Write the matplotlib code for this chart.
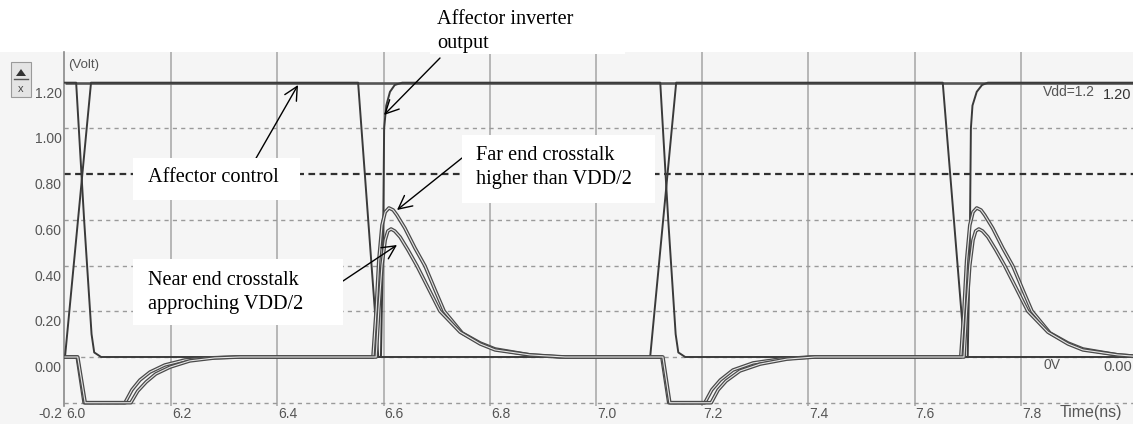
import matplotlib
matplotlib.use('Agg')
import matplotlib.pyplot as plt
import matplotlib.patheffects as pe
from matplotlib.patches import Rectangle, Polygon
from matplotlib.transforms import ScaledTranslation

W, H, DPI = 1133, 424, 100

# ---------------- data ----------------
x_ticks = [6.0, 6.2, 6.4, 6.6, 6.8, 7.0, 7.2, 7.4, 7.6, 7.8]
x_tick_labels = ['6.0', '6.2', '6.4', '6.6', '6.8', '7.0', '7.2', '7.4', '7.6', '7.8']
y_ticks = [1.2, 1.0, 0.8, 0.6, 0.4, 0.2, 0.0, -0.2]
y_tick_labels = ['1.20', '1.00', '0.80', '0.60', '0.40', '0.20', '0.00', '-0.2']

vdd_t = [6.0, 8.011]
vdd_v = [1.2, 1.2]

ctrl_t = [6.000, 6.049, 6.552, 6.590, 7.102, 7.151, 7.653, 7.695, 8.011]
ctrl_v = [0.0, 1.2, 1.2, 0.0, 0.0, 1.2, 1.2, 0.0, 0.0]

inv_t = [6.000, 6.021, 6.036, 6.050, 6.055, 6.068, 6.595, 6.599, 6.601, 6.605, 6.612, 6.621, 6.635,
         7.121, 7.136, 7.150, 7.155, 7.168, 7.700, 7.704, 7.706, 7.709, 7.717, 7.727, 7.738, 8.011]
inv_v = [1.2, 1.2, 0.6, 0.1, 0.02, 0.0, 0.0, 0.5, 1.0, 1.1, 1.16, 1.19, 1.2,
         1.2, 0.6, 0.1, 0.02, 0.0, 0.0, 0.5, 1.0, 1.1, 1.16, 1.19, 1.2, 1.2]

far_t = [6.000, 6.023, 6.036, 6.113, 6.126, 6.141, 6.160, 6.188, 6.226, 6.273, 6.320,
         6.580, 6.586, 6.591, 6.597, 6.603, 6.610, 6.618, 6.625, 6.640, 6.659, 6.678, 6.697, 6.714,
         6.748, 6.782, 6.810, 6.876, 6.932,
         7.124, 7.137, 7.205, 7.218, 7.234, 7.258, 7.296, 7.347, 7.403,
         7.687, 7.693, 7.698, 7.704, 7.710, 7.717, 7.725, 7.732, 7.747, 7.766, 7.785, 7.804, 7.821,
         7.855, 7.889, 7.917, 7.983, 8.011]
far_v = [0, 0, -0.2, -0.2, -0.144, -0.101, -0.066, -0.035, -0.013, -0.004, 0,
         0, 0.206, 0.424, 0.577, 0.634, 0.652, 0.643, 0.621, 0.564, 0.477, 0.398, 0.293, 0.201,
         0.105, 0.061, 0.035, 0.009, 0,
         0, -0.2, -0.2, -0.144, -0.101, -0.057, -0.026, -0.009, 0,
         0, 0.206, 0.424, 0.577, 0.634, 0.652, 0.643, 0.621, 0.564, 0.477, 0.398, 0.293, 0.201,
         0.105, 0.061, 0.035, 0.009, 0.004]

near_t = [6.000, 6.024, 6.038, 6.124, 6.137, 6.153, 6.171, 6.198, 6.235, 6.282, 6.330,
          6.586, 6.591, 6.597, 6.603, 6.608, 6.614, 6.621, 6.631, 6.646, 6.663, 6.684, 6.706,
          6.744, 6.782, 6.810, 6.876, 6.942,
          7.126, 7.139, 7.217, 7.230, 7.245, 7.271, 7.309, 7.360, 7.412,
          7.693, 7.698, 7.704, 7.710, 7.715, 7.721, 7.728, 7.738, 7.753, 7.770, 7.791, 7.813,
          7.851, 7.889, 7.917, 7.983, 8.011]
near_v = [0, 0, -0.2, -0.2, -0.149, -0.109, -0.074, -0.044, -0.017, -0.004, 0,
          0, 0.206, 0.402, 0.512, 0.551, 0.560, 0.551, 0.525, 0.468, 0.398, 0.302, 0.201,
          0.109, 0.057, 0.031, 0.009, 0,
          0, -0.2, -0.2, -0.144, -0.105, -0.061, -0.031, -0.009, 0,
          0, 0.206, 0.402, 0.512, 0.551, 0.560, 0.551, 0.525, 0.468, 0.398, 0.302, 0.201,
          0.109, 0.057, 0.031, 0.009, 0.004]

# ---------------- figure ----------------
def fx(x):
    return x / W

def fy(y):
    return 1 - y / H

fig = plt.figure(figsize=(W / DPI, H / DPI), dpi=DPI)
fig.patch.set_facecolor('white')
fig.add_artist(Rectangle((0, 0), 1, fy(52), transform=fig.transFigure,
                         facecolor='#f5f5f5', edgecolor='none', zorder=-10))

ax = fig.add_axes([fx(64), fy(406), 1 - fx(64), fy(52) - fy(406)])
ax.set_facecolor('none')
ax.set_xlim(6.0 - 1 / 531, 6.0 + (W - 65) / 531)
ax.set_ylim(-(406 - 357) / 228.6, (357 - 52) / 228.6)
for s in ['top', 'right', 'bottom']:
    ax.spines[s].set_visible(False)
ax.spines['left'].set_color('#8a8a8a')
ax.spines['left'].set_linewidth(1.2)

ax.set_xticks(x_ticks, x_tick_labels)
ax.set_yticks(y_ticks, y_tick_labels)
ax.tick_params(axis='both', length=0, labelsize=10, labelcolor='#555555')
ax.tick_params(axis='y', pad=1.5)
ax.tick_params(axis='x', pad=1.0)
for lab in ax.get_xticklabels():
    lab.set_fontfamily('Liberation Sans')
    lab.set_ha('left')
    lab.set_transform(lab.get_transform() + ScaledTranslation(1 / DPI, 0, fig.dpi_scale_trans))
for lab in ax.get_yticklabels():
    lab.set_fontfamily('Liberation Sans')
    lab.set_transform(lab.get_transform() + ScaledTranslation(0, -9.5 / DPI, fig.dpi_scale_trans))

# grid
for t in x_ticks[1:]:
    ax.axvline(t, color='#a5a5a5', lw=1.1, zorder=1)
for v in y_ticks[1:]:
    if abs(v - 0.8) < 1e-9:
        ax.axhline(v, color='#303030', lw=1.6, ls=(0, (3, 2)), zorder=1)
    else:
        ax.axhline(v, color='#9a9a9a', lw=1.0, ls=(0, (3, 3)), zorder=1)

# traces
ax.plot(vdd_t, vdd_v, color='#555555', lw=1.9, zorder=3, solid_capstyle='butt')
ax.plot(ctrl_t, ctrl_v, color='#3a3a3a', lw=1.4, zorder=4)
ax.plot(inv_t, inv_v, color='#3a3a3a', lw=1.4, zorder=4)
hollow = [pe.Stroke(linewidth=2.6, foreground='#4a4a4a'), pe.Normal()]
ax.plot(far_t, far_v, color='#e6e6e6', lw=0.8, zorder=5, path_effects=hollow)
ax.plot(near_t, near_v, color='#e6e6e6', lw=0.8, zorder=5, path_effects=hollow)

# axis texts
sans = 'Liberation Sans'
fig.text(fx(68), fy(65), '(Volt)', fontsize=9.5, color='#555555', family=sans, ha='left', va='center')
fig.text(fx(1060), fy(413), 'Time(ns)', fontsize=11.5, color='#555555', family=sans, ha='left', va='center')
fig.text(fx(1043), fy(92), 'Vdd=1.2', fontsize=10, color='#555555', family=sans, ha='left', va='center')
fig.text(fx(1103), fy(95), '1.20', fontsize=10.5, color='#333333', family=sans, ha='left', va='center')
fig.text(fx(1043), fy(365), '0V', fontsize=10, color='#555555', family=sans, ha='left', va='center')
fig.text(fx(1103), fy(367), '0.00', fontsize=10.5, color='#555555', family=sans, ha='left', va='center')

# small scroll icon
fig.add_artist(Rectangle((fx(11), fy(97)), fx(20), fy(62) - fy(97), transform=fig.transFigure,
                         facecolor='#e4e4e4', edgecolor='#9a9a9a', lw=0.8))
fig.add_artist(Polygon([(fx(16), fy(76)), (fx(26), fy(76)), (fx(21), fy(69))], closed=True,
                       transform=fig.transFigure, facecolor='#333333', edgecolor='none'))
fig.add_artist(plt.Line2D([fx(14), fx(28)], [fy(79), fy(79)], transform=fig.transFigure, color='#555555', lw=1))
fig.text(fx(21), fy(89), 'x', fontsize=8, color='#444444', family=sans, ha='center', va='center')

# annotation boxes
serif = 'Liberation Serif'
boxes = [(430, 0, 625, 54), (133, 158, 300, 200), (462, 135, 655, 203), (133, 259, 343, 325)]
for (x0, y0, x1, y1) in boxes:
    fig.add_artist(Rectangle((fx(x0), fy(y1)), fx(x1 - x0), fy(y0) - fy(y1), transform=fig.transFigure,
                             facecolor='white', edgecolor='none', zorder=6))

notes = [('Affector inverter\noutput', 437, 31.5),
         ('Affector control', 148, 177),
         ('Far end crosstalk\nhigher than VDD/2', 476, 167.5),
         ('Near end crosstalk\napproching VDD/2', 148, 292.5)]
for txt, x, y in notes:
    fig.text(fx(x), fy(y), txt, fontsize=14.6, family=serif, color='black', ha='left', va='center',
             linespacing=1.3, zorder=7)

arrows = [((440, 58), (384, 115)), ((255, 160), (298, 85)), ((462, 158), (397, 210)), ((343, 281), (397, 245))]
for (tx, ty), (hx, hy) in arrows:
    ax.annotate('', xy=(fx(hx), fy(hy)), xycoords='figure fraction',
                xytext=(fx(tx), fy(ty)), textcoords='figure fraction',
                arrowprops=dict(arrowstyle='->,head_length=0.6,head_width=0.3', lw=1.0, color='black',
                                shrinkA=0, shrinkB=0, mutation_scale=16),
                zorder=8, annotation_clip=False)

fig.savefig('out.png', dpi=DPI)
